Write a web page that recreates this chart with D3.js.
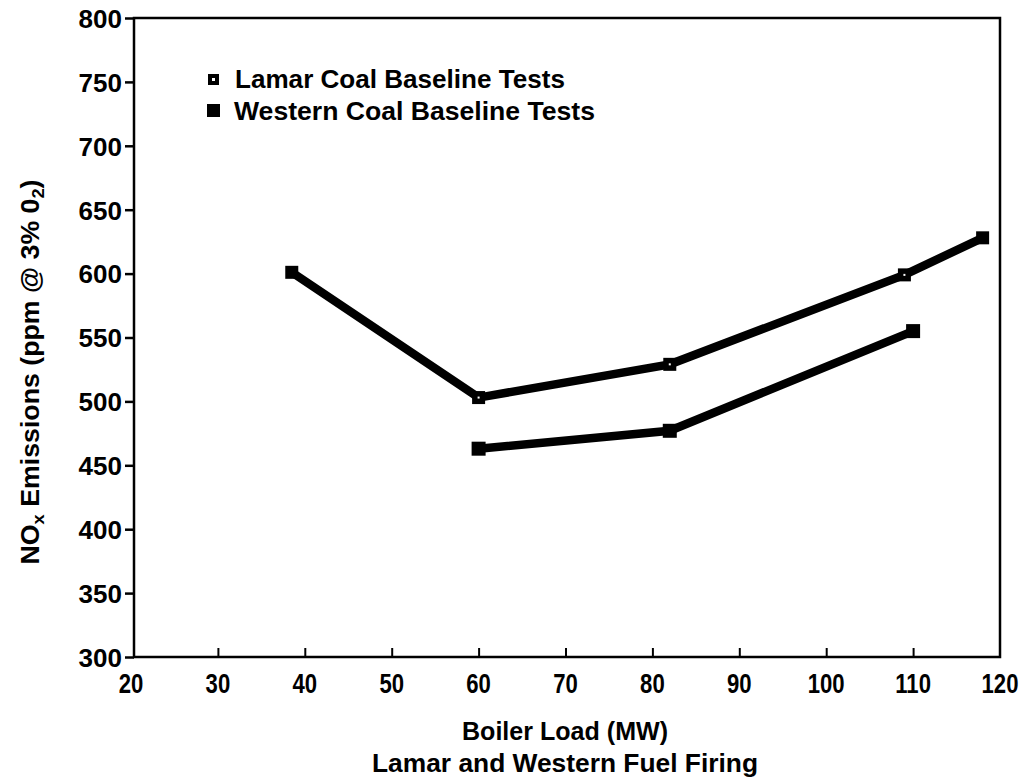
<!DOCTYPE html>
<html><head><meta charset="utf-8">
<script src="https://cdn.jsdelivr.net/npm/d3@7"></script>
<style>body{margin:0;background:#fff}svg{display:block}text{font-family:"Liberation Sans",Arial,sans-serif;fill:#000}</style>
</head><body><svg id="c" width="1023" height="783"></svg>
<script>
const lamarLoad = [38.5, 60, 82, 109, 118];
const lamarNOx = [601, 503, 529, 599, 628];
const westernLoad = [60, 82, 110];
const westernNOx = [463, 477, 555];
const xTicks = [20,30,40,50,60,70,80,90,100,110,120];
const yTicks = [300,350,400,450,500,550,600,650,700,750,800];
const seriesNames = ["Lamar Coal Baseline Tests","Western Coal Baseline Tests"];

const svg = d3.select("#c");
const L=134, R=1000, T=18, B=657;
const x = d3.scaleLinear().domain([20,120]).range([L-3,R]);
const y = d3.scaleLinear().domain([300,800]).range([B,T]);

// frame
svg.append("rect").attr("x",L).attr("y",T).attr("width",R-L).attr("height",B-T)
  .attr("fill","none").attr("stroke","#000").attr("stroke-width",2.5);

// y axis
const ya = svg.append("g").attr("transform",`translate(${L},0)`)
  .call(d3.axisLeft(y).tickValues(yTicks).tickSize(9).tickPadding(3));
ya.select(".domain").remove();
ya.selectAll("line").attr("stroke-width",2.5);
ya.selectAll("text").attr("font-size",26).attr("font-weight","bold").attr("dy","0.36em");

// x axis
const xa = svg.append("g").attr("transform",`translate(0,${B})`)
  .call(d3.axisTop(x).tickValues(xTicks.slice(1,-1)).tickSize(9));
xa.select(".domain").remove();
xa.selectAll("line").attr("stroke-width",2);
xa.selectAll("text").remove();
svg.append("g").selectAll("text").data(xTicks).join("text")
  .attr("x",d=>x(d)).attr("y",693).attr("text-anchor","middle")
  .attr("font-size",27).attr("font-weight","bold")
  .attr("transform",d=>`translate(${x(d)},0) scale(0.82,1) translate(${-x(d)},0)`)
  .text(d=>d);

// lines
const line = d3.line().x(d=>x(d[0])).y(d=>y(d[1]));
const lam = lamarLoad.map((v,i)=>[v,lamarNOx[i]]);
const wes = westernLoad.map((v,i)=>[v,westernNOx[i]]);
[lam,wes].forEach(s=>{
  svg.append("path").datum(s).attr("d",line).attr("fill","none")
    .attr("stroke","#000").attr("stroke-width",8.5).attr("stroke-linejoin","miter");
});
// markers
svg.append("g").selectAll("rect").data(lam).join("rect")
  .attr("x",d=>x(d[0])-6.5).attr("y",d=>y(d[1])-6.5).attr("width",13).attr("height",13).attr("fill","#000");
svg.append("g").selectAll("rect").data(lam.slice(1,4)).join("rect")
  .attr("x",d=>x(d[0])-1).attr("y",d=>y(d[1])-1).attr("width",2).attr("height",2).attr("fill","#fff");
svg.append("g").selectAll("rect").data(wes).join("rect")
  .attr("x",d=>x(d[0])-7).attr("y",d=>y(d[1])-7).attr("width",14).attr("height",14).attr("fill","#000");

// legend
svg.append("rect").attr("x",208).attr("y",74).attr("width",11).attr("height",11).attr("fill","#000");
svg.append("rect").attr("x",212).attr("y",78).attr("width",3).attr("height",3).attr("fill","#fff");
svg.append("rect").attr("x",207).attr("y",104).attr("width",13).attr("height",13).attr("fill","#000");
svg.append("text").attr("x",235).attr("y",88).attr("font-size",26).attr("font-weight","bold")
  .attr("textLength",330).attr("lengthAdjust","spacingAndGlyphs").text(seriesNames[0]);
svg.append("text").attr("x",234).attr("y",120).attr("font-size",26).attr("font-weight","bold")
  .attr("textLength",361).attr("lengthAdjust","spacingAndGlyphs").text(seriesNames[1]);

// y title
const yt = svg.append("text").attr("transform","translate(39,372) rotate(-90)")
  .attr("text-anchor","middle").attr("font-size",25).attr("font-weight","bold")
  .attr("textLength",385).attr("lengthAdjust","spacingAndGlyphs");
yt.append("tspan").text("NO");
yt.append("tspan").attr("font-size",17).attr("dy",5).text("x");
yt.append("tspan").attr("dy",-5).text(" Emissions (ppm @ 3% 0");
yt.append("tspan").attr("font-size",17).attr("dy",5).text("2");
yt.append("tspan").attr("dy",-5).text(")");

// x title
svg.append("text").attr("x",565).attr("y",740).attr("text-anchor","middle").attr("font-size",25).attr("font-weight","bold")
  .attr("textLength",206).attr("lengthAdjust","spacingAndGlyphs").text("Boiler Load (MW)");
svg.append("text").attr("x",565).attr("y",772).attr("text-anchor","middle").attr("font-size",25).attr("font-weight","bold")
  .attr("textLength",386).attr("lengthAdjust","spacingAndGlyphs").text("Lamar and Western Fuel Firing");
</script></body></html>
